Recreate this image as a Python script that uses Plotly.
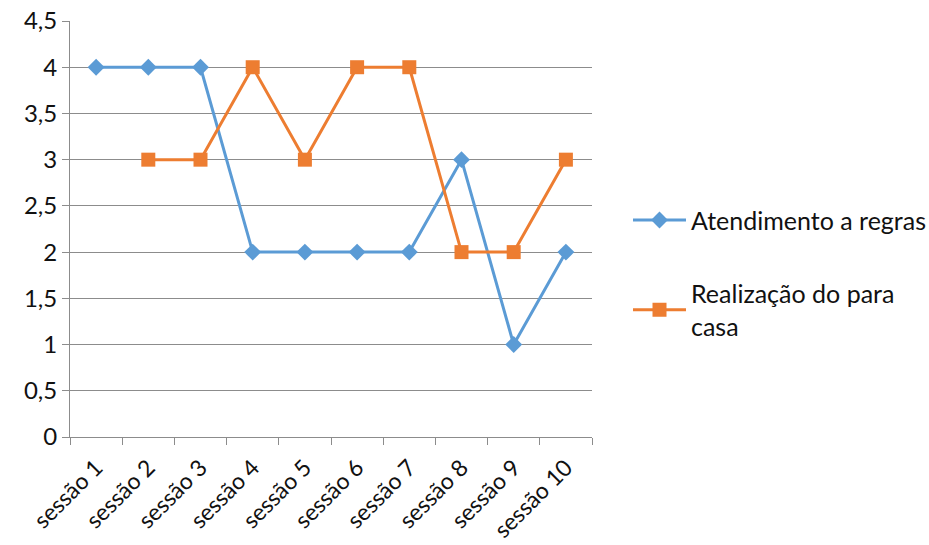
import plotly.graph_objects as go

sessoes = ["sessão 1", "sessão 2", "sessão 3", "sessão 4", "sessão 5",
           "sessão 6", "sessão 7", "sessão 8", "sessão 9", "sessão 10"]
atendimento = [4, 4, 4, 2, 2, 2, 2, 3, 1, 2]
realizacao = [None, 3, 3, 4, 3, 4, 4, 2, 2, 3]
y_ticks = [0, 0.5, 1, 1.5, 2, 2.5, 3, 3.5, 4, 4.5]

BLUE = "#5B9BD5"
ORANGE = "#ED7D31"
GRID = "#8c8c8c"
FONT = "Lato"
TEXT = "#111111"

fig = go.Figure()
fig.add_trace(go.Scatter(
    x=sessoes, y=atendimento, mode="lines+markers",
    name="Atendimento a regras", legendgroup="a",
    line=dict(color=BLUE, width=3),
    marker=dict(symbol="diamond", size=13, color=BLUE),
))
fig.add_trace(go.Scatter(
    x=sessoes, y=realizacao, mode="lines+markers",
    name="Realização do para<br>casa", legendgroup="b",
    line=dict(color=ORANGE, width=3),
    marker=dict(symbol="square", size=14, color=ORANGE),
))

fig.update_layout(
    width=929, height=545,
    margin=dict(l=70, r=337, t=21, b=108),
    paper_bgcolor="white", plot_bgcolor="white",
    separators=",.",
    font=dict(family=FONT, size=24, color=TEXT),
    legend=dict(
        xref="container", yref="container",
        x=0.676, y=0.638, xanchor="left", yanchor="top",
        font=dict(family=FONT, size=25, color=TEXT),
        tracegroupgap=38, itemwidth=53,
        bgcolor="rgba(0,0,0,0)",
    ),
    xaxis=dict(
        type="category", tickson="boundaries", range=[-0.5, 9.5],
        showgrid=False, showline=True, linecolor=GRID, linewidth=1,
        ticks="outside", ticklen=7, tickcolor=GRID,
        tickangle=-45, ticklabelstandoff=7,
        tickfont=dict(family=FONT, size=23, color=TEXT),
        zeroline=False, automargin=False,
    ),
    yaxis=dict(
        range=[0, 4.5], tickvals=y_ticks, showgrid=True, gridcolor=GRID, gridwidth=1,
        showline=True, linecolor=GRID, linewidth=1,
        ticks="outside", ticklen=7, tickcolor=GRID,
        tickfont=dict(family=FONT, size=24, color=TEXT),
        zeroline=False, automargin=False,
    ),
)

fig.write_html("out.html")
